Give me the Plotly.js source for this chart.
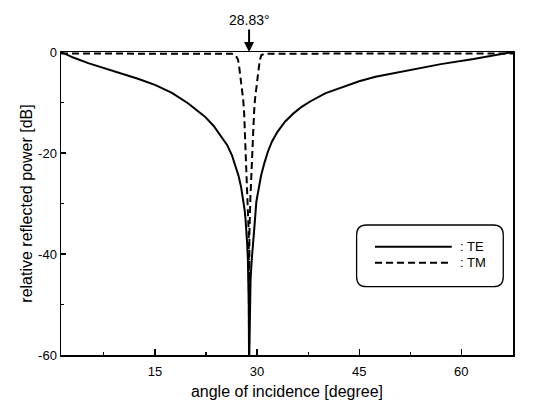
<!DOCTYPE html>
<html>
<head>
<meta charset="utf-8">
<script src="https://cdn.plot.ly/plotly-3.0.1.min.js"></script>
<style>html,body{margin:0;padding:0;background:#fff;}#chart{width:536px;height:400px;}</style>
</head>
<body>
<div id="chart"></div>
<script>
// TE: solid line
const angleTE = [1.2, 3.0, 5.2, 7.5, 10.1, 12.5, 15.0, 17.5, 19.9, 22.35, 23.6, 24.8, 25.6, 26.3, 26.8, 27.3, 27.65, 27.95, 28.15, 28.3, 28.45, 28.55, 28.65, 28.72, 28.78, 28.83, 28.93, 29.05, 29.2, 29.4, 29.65, 29.9, 30.25, 30.6, 31.1, 31.6, 32.2, 33.0, 34.1, 35.4, 36.5, 37.8, 40.0, 42.6, 45.0, 47.4, 52.2, 57.0, 61.8, 65.0, 67.6];
const powerTE = [0, -1.1, -2.2, -3.2, -4.2, -5.3, -6.5, -8.1, -10.2, -12.8, -14.6, -16.8, -18.4, -20.4, -22.3, -24.6, -26.7, -29, -31, -33, -35.5, -38, -41, -45, -50, -62, -50, -45, -41.5, -38.6, -34, -29.6, -27, -24.4, -21.9, -19.7, -17.7, -15.8, -13.8, -12.1, -10.9, -9.8, -8.2, -6.9, -5.8, -4.9, -3.6, -2.4, -1.4, -0.7, 0];
// TM: dashed line
const angleTM = [1.2, 10, 20, 25, 26.3, 26.83, 27.2, 27.4, 27.61, 27.8, 27.97, 28.1, 28.22, 28.35, 28.46, 28.65, 28.78, 28.83, 28.88, 29.01, 29.2, 29.33, 29.44, 29.56, 29.69, 29.85, 30.05, 30.25, 30.43, 30.63, 31.2, 35, 45, 55, 67.6];
const powerTM = [-0.3, -0.3, -0.3, -0.3, -0.35, -0.6, -1.5, -3.2, -5.5, -7.4, -9.5, -12, -16, -19.5, -22.7, -29.3, -36, -62, -36, -29.3, -22.7, -19.5, -16, -12, -9.5, -7.4, -5.5, -3.2, -1.5, -0.6, -0.35, -0.3, -0.3, -0.3, -0.3];

const xTickVals = [15, 30, 45, 60];
const xTickText = ['15', '30', '45', '60'];
const yTickVals = [0, -20, -40, -60];
const yTickText = ['0', '-20', '-40', '-60'];
const brewsterAngle = 28.83;
const seriesNames = ['TE', 'TM'];

const FONT = '"Liberation Sans", Arial, Helvetica, sans-serif';

const traces = [
  {x: angleTE, y: powerTE, type: 'scatter', mode: 'lines', name: seriesNames[0],
   line: {color: '#000', width: 2}},
  {x: angleTM, y: powerTM, type: 'scatter', mode: 'lines', name: seriesNames[1],
   line: {color: '#000', width: 2, dash: '7px,4px'}}
];

// legend box geometry in paper coords
const bx0 = 0.654, bx1 = 0.9785, by0 = 0.2254, by1 = 0.429, rx = 0.022, ry = 0.033;
const boxPath = `M${bx0+rx},${by1} L${bx1-rx},${by1} Q${bx1},${by1} ${bx1},${by1-ry} L${bx1},${by0+ry} Q${bx1},${by0} ${bx1-rx},${by0} L${bx0+rx},${by0} Q${bx0},${by0} ${bx0},${by0+ry} L${bx0},${by1-ry} Q${bx0},${by1} ${bx0+rx},${by1} Z`;

const layout = {
  width: 536, height: 400,
  margin: {l: 61, r: 23, t: 52, b: 45},
  paper_bgcolor: '#fff', plot_bgcolor: '#fff',
  showlegend: false,
  font: {family: FONT, color: '#000', size: 13},
  xaxis: {
    range: [1.2, 67.6],
    tickmode: 'array', tickvals: xTickVals, ticktext: xTickText,
    ticks: 'inside', ticklen: 6, tickwidth: 1.2, tickcolor: '#000',
    minor: {tickmode: 'linear', tick0: 0, dtick: 7.5, ticks: 'inside', ticklen: 3, tickcolor: '#000'},
    showgrid: false, zeroline: false,
    showline: true, mirror: true, linecolor: '#000', linewidth: 1.5,
    ticklabelstandoff: 4, automargin: false,
    tickfont: {family: FONT, size: 13, color: '#000'},
    title: {text: 'angle of incidence [degree]', font: {family: FONT, size: 16, color: '#000'}}
  },
  yaxis: {
    range: [-60, 0],
    tickmode: 'array', tickvals: yTickVals, ticktext: yTickText,
    ticks: 'inside', ticklen: 5, tickwidth: 1.2, tickcolor: '#000',
    minor: {tickmode: 'linear', tick0: 0, dtick: 10, ticks: 'inside', ticklen: 3, tickcolor: '#000'},
    showgrid: false, zeroline: false,
    showline: true, mirror: true, linecolor: '#000', linewidth: 1.5,
    automargin: true,
    tickfont: {family: FONT, size: 13, color: '#000'},
    title: {text: 'relative reflected power [dB]', font: {family: FONT, size: 16, color: '#000'}, standoff: 1}
  },
  shapes: [
    {type: 'path', xref: 'paper', yref: 'paper', path: boxPath, line: {color: '#000', width: 1.3}, fillcolor: 'rgba(255,255,255,0)'},
    {type: 'line', xref: 'paper', yref: 'paper', x0: 0.6947, x1: 0.8644, y0: 0.3574, y1: 0.3574, line: {color: '#000', width: 2}},
    {type: 'line', xref: 'paper', yref: 'paper', x0: 0.6947, x1: 0.8644, y0: 0.3046, y1: 0.3046, line: {color: '#000', width: 2, dash: '7px,4px'}}
  ],
  annotations: [
    {x: brewsterAngle, y: 0, xref: 'x', yref: 'y', text: brewsterAngle.toFixed(2) + '°',
     showarrow: true, ax: 0, ay: -32, arrowhead: 2, arrowsize: 1, arrowwidth: 2, arrowcolor: '#000',
     font: {family: FONT, size: 14, color: '#000'}},
    {x: 0.878, y: 0.3574, xref: 'paper', yref: 'paper', xanchor: 'left', yanchor: 'middle', showarrow: false,
     text: ': ' + seriesNames[0], font: {family: FONT, size: 13, color: '#000'}},
    {x: 0.878, y: 0.3046, xref: 'paper', yref: 'paper', xanchor: 'left', yanchor: 'middle', showarrow: false,
     text: ': ' + seriesNames[1], font: {family: FONT, size: 13, color: '#000'}}
  ]
};

Plotly.newPlot('chart', traces, layout, {displayModeBar: false, staticPlot: true});
</script>
</body>
</html>
